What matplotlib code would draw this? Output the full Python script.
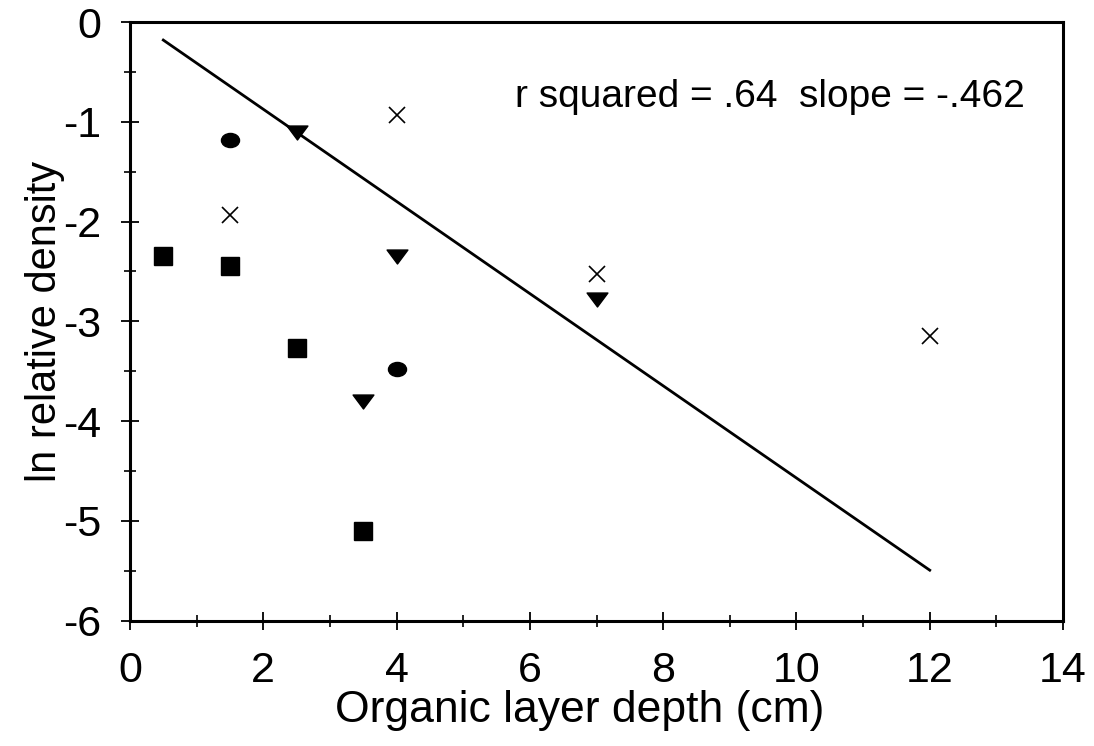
import numpy as np
import matplotlib
matplotlib.use("Agg")
from matplotlib import pyplot as plt
from matplotlib.path import Path
from matplotlib.ticker import MultipleLocator

plt.rcParams['font.family'] = ['Liberation Sans', 'DejaVu Sans']
plt.rcParams['axes.unicode_minus'] = False

# depth (cm) and ln relative density, one pair of lists per species symbol
sq_x = [0.5, 1.5, 2.5, 3.5]
sq_y = [-2.35, -2.45, -3.27, -5.10]
circ_x = [1.5, 4.0]
circ_y = [-1.18, -3.48]
tri_x = [2.5, 4.0, 3.5, 7.0]
tri_y = [-1.10, -2.35, -3.80, -2.78]
cross_x = [1.5, 4.0, 7.0, 12.0]
cross_y = [-1.93, -0.93, -2.53, -3.15]

slope = -0.462
intercept = 0.05
fit_x = [0.5, 12.0]

# flattened symbols
circle = Path.unit_circle()
oval = Path(circle.vertices * [1.0, 0.78], circle.codes)
flat_tri = Path([(-1.0, 0.62), (1.0, 0.62), (0.0, -0.72), (-1.0, 0.62)],
                [Path.MOVETO, Path.LINETO, Path.LINETO, Path.CLOSEPOLY])

fig = plt.figure(figsize=(10.94, 7.46), dpi=100)
ax = fig.add_axes([0.1188, 0.168, 0.8529, 0.8025])

ax.plot(sq_x, sq_y, 's', color='black', markersize=13, linestyle='none')
ax.plot(circ_x, circ_y, marker=oval, color='black', markersize=13, linestyle='none')
ax.plot(tri_x, tri_y, marker=flat_tri, color='black', markersize=15, linestyle='none')
ax.plot(cross_x, cross_y, 'x', color='black', markersize=12, markeredgewidth=1.2, linestyle='none')

fy = [intercept + slope * x for x in fit_x]
ax.plot(fit_x, fy, color='black', linewidth=2)

ax.text(5.78, -0.85, "r squared = .64  slope = -.462", fontsize=28, va='baseline', ha='left')

ax.set_xlim(0, 14)
ax.set_ylim(-6, 0)
ax.xaxis.set_major_locator(MultipleLocator(2))
ax.xaxis.set_minor_locator(MultipleLocator(1))
ax.yaxis.set_major_locator(MultipleLocator(1))
ax.yaxis.set_minor_locator(MultipleLocator(0.5))
ax.tick_params(which='major', direction='inout', length=13, width=1.3, labelsize=31)
ax.tick_params(which='minor', direction='inout', length=9, width=1.2)
ax.tick_params(axis='x', which='major', pad=15)
ax.tick_params(axis='y', which='major', pad=14)

for s in ax.spines.values():
    s.set_linewidth(2.2)

ax.set_xlabel("Organic layer depth (cm)", fontsize=32, labelpad=0)
ax.xaxis.set_label_coords(0.482, -0.115)
ax.set_ylabel("ln relative density", fontsize=30, labelpad=-1)

fig.savefig("out.png", dpi=100)
